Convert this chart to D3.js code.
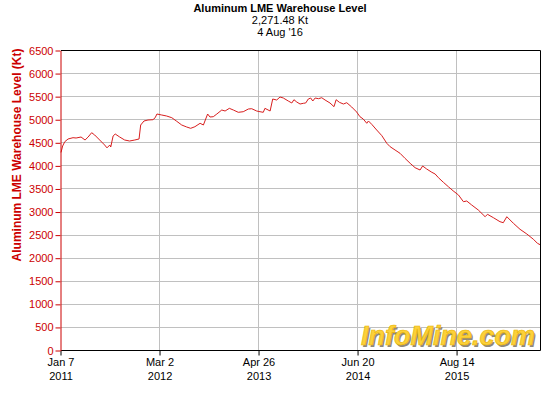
<!DOCTYPE html>
<html>
<head>
<meta charset="utf-8">
<script src="https://cdn.jsdelivr.net/npm/d3@7"></script>
<style>
  body { margin: 0; background: #fff; }
  svg { display: block; font-family: "Liberation Sans", Arial, sans-serif; }
</style>
</head>
<body>
<svg id="chart" width="560" height="400"></svg>
<script>
// weekly-ish readings of the LME aluminium stock (Kt)
var dates = ['2011-01-07','2011-01-14','2011-01-23','2011-02-06','2011-02-27','2011-03-12','2011-04-02','2011-04-19',
  '2011-05-02','2011-05-17','2011-05-30','2011-06-20','2011-07-11','2011-07-21','2011-08-02','2011-08-06','2011-08-16',
  '2011-08-25','2011-09-13','2011-10-04','2011-10-25','2011-11-16','2011-12-04','2011-12-11','2011-12-25','2012-01-11',
  '2012-02-01','2012-02-10','2012-02-18','2012-03-09','2012-03-30','2012-04-21','2012-05-12','2012-06-02','2012-06-23',
  '2012-07-10','2012-07-28','2012-08-19','2012-09-02','2012-09-20','2012-09-30','2012-10-14','2012-10-29','2012-11-19',
  '2012-12-03','2012-12-21','2013-01-07','2013-01-28','2013-02-18','2013-03-12','2013-03-26','2013-04-16','2013-04-30',
  '2013-05-14','2013-05-21','2013-06-12','2013-06-23','2013-07-10','2013-07-24','2013-08-07','2013-08-28','2013-09-12',
  '2013-09-21','2013-10-03','2013-10-17','2013-10-31','2013-11-10','2013-11-21','2013-12-01','2013-12-10','2013-12-20',
  '2014-01-03','2014-01-17','2014-01-31','2014-02-21','2014-03-10','2014-03-19','2014-04-02','2014-04-19','2014-05-03',
  '2014-05-24','2014-06-14','2014-06-28','2014-07-12','2014-07-27','2014-08-03','2014-08-17','2014-09-07','2014-09-29',
  '2014-10-20','2014-11-03','2014-11-24','2014-12-15','2015-01-05','2015-01-27','2015-02-17','2015-03-10','2015-03-21',
  '2015-04-07','2015-04-29','2015-05-13','2015-05-27','2015-06-17','2015-07-08','2015-07-28','2015-08-20','2015-09-10',
  '2015-09-24','2015-10-15','2015-11-12','2015-12-11','2015-12-21','2016-01-15','2016-02-12','2016-02-26','2016-03-12',
  '2016-04-09','2016-05-07','2016-06-05','2016-07-03','2016-07-20','2016-08-04'];

var levels = [4280, 4420, 4513, 4572, 4600, 4593, 4615, 4550,
  4615, 4708, 4658, 4550, 4442, 4380, 4442, 4398, 4636,
  4680, 4615, 4550, 4528, 4550, 4572, 4875, 4962, 4983,
  4990, 5030, 5113, 5092, 5070, 5033, 4955, 4875, 4832,
  4803, 4838, 4912, 4875, 5113, 5048, 5055, 5113, 5200,
  5178, 5236, 5200, 5150, 5163, 5222, 5228, 5178, 5163,
  5150, 5236, 5178, 5438, 5417, 5482, 5460, 5395, 5352,
  5423, 5373, 5330, 5345, 5352, 5438, 5460, 5395, 5460,
  5445, 5466, 5417, 5352, 5272, 5423, 5366, 5330, 5358,
  5265, 5157, 5055, 5005, 4912, 4962, 4890, 4767, 4643,
  4478, 4405, 4333, 4262, 4153, 4045, 3950, 3900, 3987,
  3922, 3850, 3813, 3733, 3633, 3538, 3450, 3358, 3213,
  3228, 3142, 3033, 2888, 2940, 2867, 2780, 2758, 2888,
  2745, 2615, 2513, 2398, 2311, 2271.48];

var xTickDates = ['2011-01-07', '2012-03-02', '2013-04-26', '2014-06-20', '2015-08-14'];
var xTickLines1 = ['Jan 7', 'Mar 2', 'Apr 26', 'Jun 20', 'Aug 14'];
var xTickLines2 = ['2011', '2012', '2013', '2014', '2015'];
var yTicks = d3.range(0, 6501, 500);

var titleLines = ['Aluminum LME Warehouse Level', '2,271.48 Kt', "4 Aug '16"];
var yTitle = 'Aluminum LME Warehouse Level (Kt)';

var parse = d3.timeParse('%Y-%m-%d');
var red = '#cc0000';

var svg = d3.select('#chart');
var plotLeft = 61, plotRight = 540, plotTop = 50, plotBottom = 350;

var x = d3.scaleTime()
  .domain([parse('2011-01-07'), parse('2016-08-04')])
  .range([plotLeft, plotRight + 1]);
var y = d3.scaleLinear().domain([0, 6500]).range([plotBottom, plotTop]);

//Gridlines
svg.append('g').selectAll('line').data(yTicks.slice(1, -1)).enter().append('line')
  .attr('x1', plotLeft).attr('x2', plotRight)
  .attr('y1', function (d) { return Math.round(y(d)) + 0.5; })
  .attr('y2', function (d) { return Math.round(y(d)) + 0.5; })
  .attr('stroke', '#c0c0c0');

svg.append('g').selectAll('line').data(xTickDates.slice(1)).enter().append('line')
  .attr('x1', function (d) { return Math.round(x(parse(d))) - 0.5; })
  .attr('x2', function (d) { return Math.round(x(parse(d))) - 0.5; })
  .attr('y1', plotTop).attr('y2', plotBottom)
  .attr('stroke', '#c0c0c0');

//Data line
var points = dates.map(function (d, i) { return { date: parse(d), value: levels[i] }; });
var line = d3.line()
  .x(function (d) { return x(d.date); })
  .y(function (d) { return y(d.value); });

svg.append('path').datum(points)
  .attr('d', line)
  .attr('fill', 'none')
  .attr('stroke', '#d81e1e')
  .attr('stroke-width', 1);

//Frame (top, right, bottom)
svg.append('path')
  .attr('d', 'M' + plotLeft + ',' + (plotTop + 0.5) + 'H' + (plotRight + 0.5) + 'V' + (plotBottom + 0.5) + 'H' + plotLeft)
  .attr('fill', 'none').attr('stroke', '#000');

//X axis
var xAxis = d3.axisBottom(x)
  .tickValues(xTickDates.map(parse))
  .tickSize(5)
  .tickFormat('');
var gx = svg.append('g').attr('transform', 'translate(-0.5,' + (plotBottom + 0.5) + ')').call(xAxis);
gx.select('.domain').remove();
gx.selectAll('.tick line').attr('stroke', '#000');
gx.selectAll('.tick').append('text')
  .attr('fill', '#000').attr('font-size', 11).attr('text-anchor', 'middle')
  .attr('y', 15)
  .text(function (d, i) { return xTickLines1[i]; });
gx.selectAll('.tick').append('text')
  .attr('fill', '#000').attr('font-size', 11).attr('text-anchor', 'middle')
  .attr('y', 29)
  .text(function (d, i) { return xTickLines2[i]; });

//Y axis
var yAxis = d3.axisLeft(y).tickValues(yTicks).tickFormat(d3.format('d'))
  .tickSize(5).tickPadding(2).tickSizeOuter(0);
var gy = svg.append('g').attr('transform', 'translate(' + (plotLeft - 0.5) + ',0.5)').call(yAxis);
gy.select('.domain').attr('stroke', red);
gy.selectAll('.tick line').attr('stroke', red);
gy.selectAll('.tick text').attr('fill', red).attr('font-size', 11)
  .attr('font-family', '"Liberation Sans", Arial, sans-serif');

//Y title
svg.append('text')
  .attr('transform', 'translate(21,155) rotate(-90)')
  .attr('text-anchor', 'middle')
  .attr('fill', red).attr('font-size', 12).attr('font-weight', 'bold')
  .text(yTitle);

//Title
svg.append('g').selectAll('text').data(titleLines).enter().append('text')
  .attr('x', 280)
  .attr('y', function (d, i) { return 12 + i * 12; })
  .attr('text-anchor', 'middle')
  .attr('font-size', 11)
  .attr('font-weight', function (d, i) { return i === 0 ? 'bold' : 'normal'; })
  .attr('fill', '#000')
  .text(function (d) { return d; });

//Watermark
var logo = svg.append('g').attr('transform', 'translate(448,345)');
logo.append('text')
  .attr('x', 1.5).attr('y', 1.5)
  .attr('text-anchor', 'middle')
  .attr('font-size', 27).attr('font-weight', 'bold').attr('font-style', 'italic')
  .attr('fill', '#8f8a7a')
  .text('InfoMine.com');
logo.append('text')
  .attr('text-anchor', 'middle')
  .attr('font-size', 27).attr('font-weight', 'bold').attr('font-style', 'italic')
  .attr('fill', '#fcd03a').attr('stroke', '#e8b400').attr('stroke-width', 0.6)
  .text('InfoMine.com');
</script>
</body>
</html>
